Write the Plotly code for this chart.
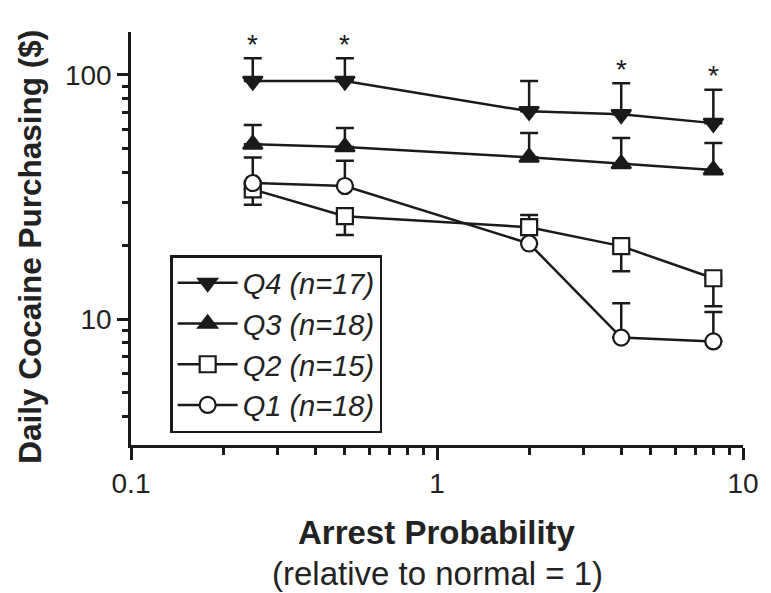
import numpy as np
import plotly.graph_objects as go

# ---- data ----
arrest_prob = [0.25, 0.5, 2, 4, 8]

q4_vals = [94.5, 94.5, 71.0, 69.0, 63.5]
q4_err_up = [22.5, 22.5, 23.5, 23.5, 23.5]
q4_err_dn = [None, None, None, None, None]

q3_vals = [52.0, 50.7, 46.0, 43.2, 40.8]
q3_err_up = [10.4, 9.9, 11.8, 12.0, 11.8]
q3_err_dn = [None, None, None, None, None]

q2_vals = [34.0, 26.4, 23.8, 19.9, 14.7]
q2_err_up = [None, None, 2.9, None, None]
q2_err_dn = [4.6, 4.3, None, 4.2, 3.4]

q1_vals = [36.1, 35.1, 20.4, 8.4, 8.1]
q1_err_up = [9.8, 9.4, None, 3.2, 2.6]
q1_err_dn = [None, None, None, None, None]

series_names = ["Q4 (n=17)", "Q3 (n=18)", "Q2 (n=15)", "Q1 (n=18)"]
signif_idx = [0, 1, 3, 4]  # points of Q4 marked with *

x_ticks = [0.1, 1, 10]
x_ticktext = ["0.1", "1", "10"]
y_ticks = [10, 100]
y_ticktext = ["10", "100"]
x_minor = [0.2, 0.3, 0.4, 0.5, 0.6, 0.7, 0.8, 0.9, 2, 3, 4, 5, 6, 7, 8, 9]
y_minor = [4, 5, 6, 7, 8, 9, 20, 30, 40, 50, 60, 70, 80, 90]

# ---- style ----
INK = "#1a1a1a"
FONT = "Liberation Sans, Arial, sans-serif"
LW = 2.5


def err(up, dn):
    return dict(type="data", symmetric=False,
                array=[np.nan if v is None else v for v in up],
                arrayminus=[np.nan if v is None else v for v in dn],
                color=INK, thickness=LW, width=9, visible=True)


fig = go.Figure()
specs = [
    (q4_vals, q4_err_up, q4_err_dn, "triangle-down", INK),
    (q3_vals, q3_err_up, q3_err_dn, "triangle-up", INK),
    (q2_vals, q2_err_up, q2_err_dn, "square", "white"),
    (q1_vals, q1_err_up, q1_err_dn, "circle", "white"),
]
for name, (vals, up, dn, sym, fill) in zip(series_names, specs):
    size = 17 if "triangle" in sym else 16
    fig.add_trace(go.Scatter(
        x=arrest_prob, y=vals, name=name, mode="lines+markers",
        line=dict(color=INK, width=LW),
        marker=dict(symbol=sym, size=size, color=fill,
                    line=dict(color=INK, width=2.2)),
        error_y=err(up, dn),
    ))

for i in signif_idx:
    fig.add_annotation(
        x=np.log10(arrest_prob[i]), y=np.log10(q4_vals[i] + q4_err_up[i]),
        text="*", showarrow=False, yshift=14,
        font=dict(size=28, color=INK, family=FONT),
    )

axis_common = dict(
    type="log", showline=True, linecolor=INK, linewidth=LW,
    ticks="outside", tickcolor=INK, tickwidth=LW, showgrid=False,
    zeroline=False, tickfont=dict(size=28, color="#222", family=FONT),
    tickmode="array",
)

fig.update_layout(
    width=763, height=585,
    margin=dict(l=123, r=19, t=24, b=148),
    paper_bgcolor="white", plot_bgcolor="white",
    font=dict(family=FONT, color="#222"),
    xaxis=dict(axis_common, range=[-1, 1], tickvals=x_ticks, ticktext=x_ticktext,
               ticklen=12,
               minor=dict(tickmode="array", tickvals=x_minor, ticks="outside",
                          ticklen=7, tickwidth=LW, tickcolor=INK)),
    yaxis=dict(axis_common, range=[np.log10(3.05), np.log10(150)],
               tickvals=y_ticks, ticktext=y_ticktext, ticklen=11,
               minor=dict(tickmode="array", tickvals=y_minor, ticks="outside",
                          ticklen=6, tickwidth=LW, tickcolor=INK)),
    showlegend=True,
    legend=dict(x=0.064, y=0.46, xanchor="left", yanchor="top",
                bgcolor="white", bordercolor=INK, borderwidth=2.5,
                font=dict(size=29, color="#222", family=FONT, style="italic"),
                itemwidth=60, tracegroupgap=0),
)

fig.add_annotation(xref="paper", yref="paper", x=0.5, y=-0.213,
                   text="<b>Arrest Probability</b>", showarrow=False,
                   font=dict(size=33, color="#222", family=FONT),
                   xanchor="center", yanchor="middle")
fig.add_annotation(xref="paper", yref="paper", x=0.5, y=-0.31,
                   text="(relative to normal = 1)", showarrow=False,
                   font=dict(size=33, color="#222", family=FONT),
                   xanchor="center", yanchor="middle")
fig.add_annotation(xref="paper", yref="paper", x=-0.165, y=0.48,
                   text="<b>Daily Cocaine Purchasing ($)</b>", showarrow=False,
                   textangle=-90,
                   font=dict(size=31.5, color="#222", family=FONT),
                   xanchor="center", yanchor="middle")

fig.write_html("out.html")
